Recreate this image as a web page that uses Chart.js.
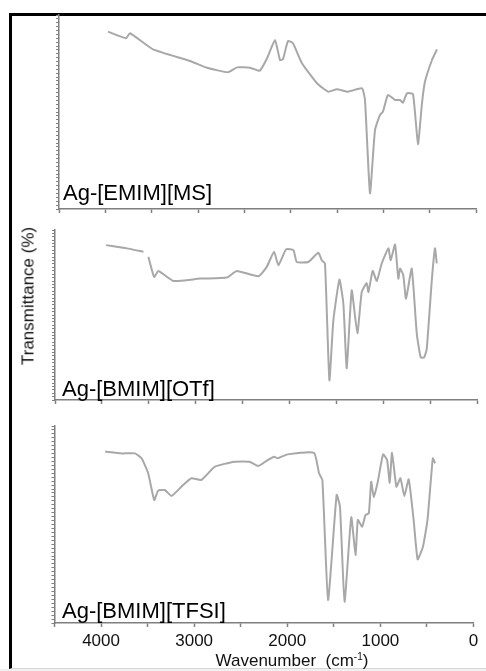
<!DOCTYPE html>
<html>
<head>
<meta charset="utf-8">
<script src="https://cdn.jsdelivr.net/npm/chart.js@4.4.0/dist/chart.umd.min.js"></script>
<style>
  body { margin: 0; background: #fff; font-family: "Liberation Sans", Arial, sans-serif; }
  #wrap { position: relative; width: 486px; height: 671px; overflow: hidden; }
  #frame { position: absolute; left: 9px; top: 13px; width: 520px; height: 652px;
           border-top: 3px solid #000; border-left: 3px solid #000; border-bottom: 1px solid #d6d6d6; }
  #foot { position: absolute; left: 0; top: 669px; width: 486px; height: 2px; background: #f0f0f0; }
  canvas { position: absolute; left: 0; }
  .tag { position: absolute; font-size: 22px; line-height: 22px; color: #000; white-space: nowrap; }
  #ytitle { position: absolute; left: 27.5px; top: 296px; font-size: 17px; line-height: 17px; color: #111;
            white-space: nowrap; transform: translate(-50%, -50%) rotate(-90deg); }
  #xtitle { position: absolute; left: 292px; top: 660px; font-size: 17px; line-height: 17px; color: #111;
            white-space: pre; transform: translate(-50%, -50%); }
  #xtitle sup { font-size: 10px; vertical-align: 6px; line-height: 0; }
</style>
</head>
<body>
<div id="wrap">
  <div id="frame"></div>
  <div id="foot"></div>
  <canvas id="ms" width="486" height="220" style="top:0px"></canvas>
  <canvas id="otf" width="486" height="190" style="top:220px"></canvas>
  <canvas id="tfsi" width="486" height="261" style="top:410px"></canvas>
  <div class="tag" style="left:63px; top:182px">Ag-[EMIM][MS]</div>
  <div class="tag" style="left:62px; top:378px">Ag-[BMIM][OTf]</div>
  <div class="tag" style="left:62px; top:600px">Ag-[BMIM][TFSI]</div>
  <div id="ytitle">Transmittance (%)</div>
  <div id="xtitle">Wavenumber  (cm<sup>-1</sup>)</div>
</div>
<script>
// x tick positions and the ones that get a label
const xTickValues = [4500, 4000, 3500, 3000, 2500, 2000, 1500, 1000, 500, 0];
const tickLabels = [4000, 3000, 2000, 1000, 0];

// Ag-[EMIM][MS]
const wavenumberMS = [3971, 3777, 3734, 3485, 3086, 2903, 2676, 2579, 2439, 2363, 2331, 2255, 2169, 2115, 2083,
  2029, 1975, 1878, 1716, 1597, 1500, 1381, 1230, 1198, 1144, 1090, 1036, 1004, 950, 874, 820, 788, 745, 680,
  626, 583, 551, 475, 421];
const transMS = [91.4, 88.0, 90.6, 82.3, 76.3, 72.8, 70.5, 73.0, 72.8, 71.6, 71.3, 77.7, 87.1, 76.8, 77.2,
  86.6, 85.4, 75.1, 64.8, 60.5, 61.7, 60.5, 62.2, 56.2, 8.1, 40.7, 48.5, 50.2, 58.8, 56.2, 56.2, 54.8, 59.6, 59.3,
  33.5, 54.5, 65.6, 76.8, 82.3];

// Ag-[BMIM][OTf]
const wavenumberOTf = [3955, 3734, 3557, 3530, 3504, 3443, 3397, 3237, 2952, 2668, 2561, 2331, 2242, 2164, 2118,
  2036, 1957, 1922, 1798, 1692, 1655, 1621, 1574, 1532, 1467, 1425, 1389, 1336, 1276, 1229, 1176, 1158, 1112,
  1069, 1016, 945, 920, 874, 839, 820, 786, 757, 696, 642, 600, 564, 536, 482, 448, 429];
const transOTf = [91.1, 89.2, 87.2, null, 84.2, 72.4, 75.9, 70.0, 71.4, 72.0, 75.9, 72.8, 78.3, 87.2, 79.3,
  88.6, 88.2, 81.2, 81.2, 86.6, 82.2, 80.3, 11.6, 46.7, 70.8, 56.6, 18.7, 64.5, 39.2, 63.5, 68.8, 63.5, 75.9,
  70.0, 80.3, 89.2, 82.2, 91.5, 71.4, 77.3, 73.4, 59.6, 77.3, 38.9, 25.0, 25.0, 30.0, 70.4, 89.2, 80.3];

// Ag-[BMIM][TFSI]
const wavenumberTFSI = [3956, 3778, 3636, 3565, 3494, 3429, 3387, 3315, 3244, 3137, 3030, 2923, 2780, 2567, 2407,
  2311, 2211, 2140, 2104, 1997, 1713, 1659, 1623, 1562, 1470, 1434, 1385, 1313, 1267, 1242, 1196, 1160, 1124,
  1099, 1071, 1028, 971, 928, 900, 875, 828, 785, 743, 696, 643, 600, 543, 494, 437, 412];
const transTFSI = [87.0, 86.1, 86.1, 83.6, 76.0, 62.4, 67.2, 67.5, 64.5, 69.2, 73.5, 72.6, 79.3, 81.9, 81.9,
  79.7, 82.7, 84.4, 83.6, 85.6, 86.4, 76.0, 72.6, 11.7, 65.0, 59.0, 10.8, 53.7, 34.5, 52.3, 48.9, 54.8, 55.7,
  71.7, 63.8, 71.7, 85.6, 82.7, 71.2, 86.4, 69.2, 73.5, 64.5, 72.9, 52.3, 32.3, 38.7, 52.3, 83.6, 81.1];

const lineColor = "#a8a8a8";
const axisColor = "#7f7f7f";
const fontFamily = "'Liberation Sans', Arial, sans-serif";

// dense minor ticks on the y axis, like the original
const yTickValues = [];
for (let v = 0; v <= 100; v += 2) yTickValues.push(v);

function createSpectrum(id, wn, tr, box, showTicks) {
  new Chart(document.getElementById(id), {
    type: "line",
    data: {
      datasets: [{
        data: wn.map((x, i) => ({ x: x, y: tr[i] })),
        borderColor: lineColor,
        borderWidth: 2,
        pointRadius: 0,
        tension: 0.15,
        spanGaps: false
      }]
    },
    options: {
      responsive: false,
      animation: false,
      devicePixelRatio: 1,
      layout: { padding: box },
      plugins: {
        legend: { display: false },
        tooltip: { enabled: false }
      },
      scales: {
        x: {
          type: "linear",
          reverse: true,
          min: 0,
          max: 4500,
          afterBuildTicks: (s) => { s.ticks = xTickValues.map(v => ({ value: v })); },
          afterFit: (s) => { s.height = showTicks ? 48 : 5; },
          grid: { drawOnChartArea: false, tickLength: 4, color: axisColor, tickWidth: 1.5 },
          border: { color: axisColor, width: 1.5 },
          ticks: {
            display: showTicks,
            autoSkip: false,
            maxRotation: 0,
            padding: 4,
            color: "#111",
            font: { family: fontFamily, size: 17 },
            callback: (v) => tickLabels.includes(v) ? String(v) : ""
          }
        },
        y: {
          min: 0,
          max: 100,
          afterBuildTicks: (s) => { s.ticks = yTickValues.map(v => ({ value: v })); },
          afterFit: (s) => { s.width = 4; },
          grid: { drawOnChartArea: false, tickLength: 3, color: axisColor },
          border: { color: axisColor, width: 1.5 },
          ticks: { display: false }
        }
      }
    }
  });
}

createSpectrum("ms", wavenumberMS, transMS, { top: 15, bottom: 6, left: 55, right: 10 }, false);
createSpectrum("otf", wavenumberOTf, transOTf, { top: 10, bottom: 5, left: 51, right: 9 }, false);
createSpectrum("tfsi", wavenumberTFSI, transTFSI, { top: 16, bottom: 0, left: 50.5, right: 12.5 }, true);
</script>
</body>
</html>
